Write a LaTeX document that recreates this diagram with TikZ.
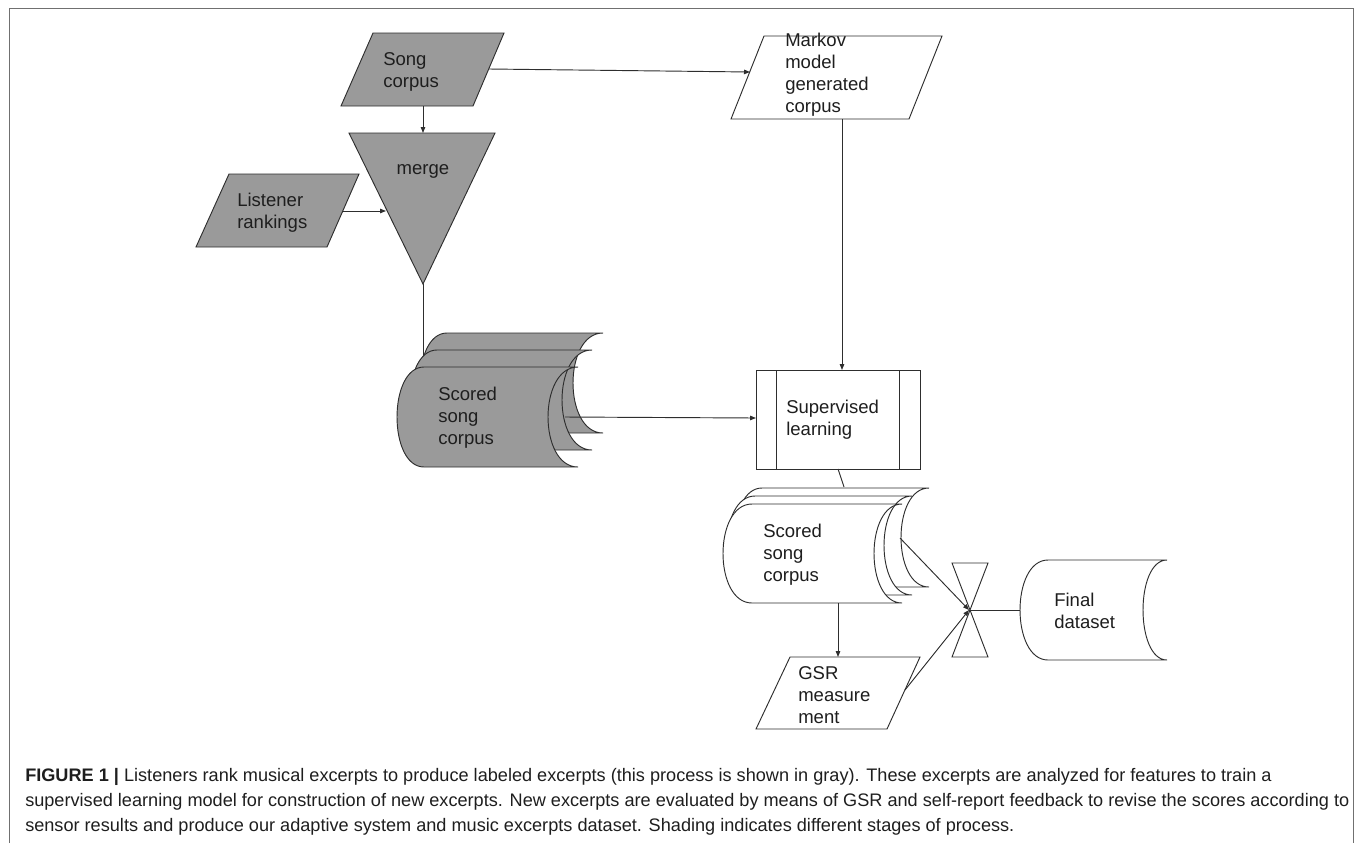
\documentclass[tikz,border=0pt]{standalone}
\usepackage{fontspec}
\setmainfont{Liberation Sans}
\usetikzlibrary{arrows.meta}
\definecolor{shadegray}{HTML}{9A9A9A}
\definecolor{linecol}{HTML}{2E2E2E}
\definecolor{framecol}{HTML}{707070}
\definecolor{txtcol}{HTML}{1E1E1E}
% #1 style, #2 x0 (leftmost), #3 x1 (right corners), #4 top, #5 bottom, #6 left radius, #7 right radius
\newcommand\mystoreddata[7]{%
  \path[#1] ({#2+#6},#4) .. controls ({#2+#6-1.3333*#6},#4) and ({#2+#6-1.3333*#6},#5) .. ({#2+#6},#5)
    -- (#3,#5) .. controls ({#3-1.3333*#7},#5) and ({#3-1.3333*#7},#4) .. (#3,#4) -- cycle;}
\begin{document}
\begin{tikzpicture}[x=0.75pt,y=-0.75pt,
  shapeline/.style={draw=linecol, line width=0.7pt, line join=miter},
  grayshape/.style={shapeline, fill=shadegray},
  whiteshape/.style={shapeline, fill=white},
  conn/.style={draw=linecol, line width=0.7pt},
  arr/.style={conn, -{Triangle[length=4.5pt,width=3.4pt]}},
  lbl/.style={inner sep=0pt, align=left, anchor=west, text=txtcol,
    font=\fontsize{13.9}{16.6}\selectfont},
  ctr/.style={inner sep=0pt, anchor=center, text=txtcol,
    font=\fontsize{13.9}{16.6}\selectfont},
  captext/.style={inner sep=0pt, anchor=base west, text=txtcol,
    font=\fontsize{13.6}{18}\selectfont}
]
\useasboundingbox (0,0) rectangle (1355,843);
% frame
\draw[framecol, line width=1.1pt] (9.3,843) -- (9.3,8.3) -- (1353.7,8.3) -- (1353.7,843);

% connection points
\coordinate (songR) at (489,69);
\coordinate (markovL) at (750,72);
\coordinate (songB) at (423,106);
\coordinate (mergeT) at (423,133);
\coordinate (listR) at (343,211);
\coordinate (mergeL) at (386,211);
\coordinate (mergeApex) at (423,284);
\coordinate (gscoredTop) at (423,362);
\coordinate (gscoredR) at (565,417);
\coordinate (supL) at (756,418);
\coordinate (markovB) at (842,119);
\coordinate (supT) at (842,370);
\coordinate (supB) at (838,469);
\coordinate (wscoredTop) at (844,487);
\coordinate (wscoredB) at (838,603);
\coordinate (gsrT) at (838,657);
\coordinate (wscoredR) at (900,538);
\coordinate (bow) at (969,610);
\coordinate (gsrR) at (905,690);
\coordinate (finalL) at (1020,610);

% line from merge to gray stack (behind the stack)
\draw[conn] (mergeApex) -- (gscoredTop);

% Song corpus
\path[grayshape] (373,33) -- (504,33) -- (473,106) -- (341,106) -- cycle;
\node[lbl] (songtxt) at (383,72) {Song\\corpus};
% merge
\path[grayshape] (349,133) -- (495,133) -- (423,284) -- cycle;
\node[ctr] (mergetxt) at (423,171) {merge};
% Listener rankings
\path[grayshape] (229,174) -- (359,174) -- (327,247) -- (196,247) -- cycle;
\node[lbl] (listtxt) at (237,212.5) {Listener\\rankings};
% gray scored song corpus
\mystoreddata{grayshape}{420}{603}{333}{433}{27}{30}
\mystoreddata{grayshape}{410}{592}{350}{450}{27}{30}
\mystoreddata{grayshape}{397}{578}{367}{467}{27}{30}
\node[lbl] (gscoredtxt) at (438,417.5) {Scored\\song\\corpus};

% Markov model generated corpus
\path[whiteshape] (764,36) -- (942,36) -- (909,119) -- (731,119) -- cycle;
\node[lbl] (markovtxt) at (785,75) {Markov\\model\\generated\\corpus};

% Supervised learning
\path[whiteshape] (756,370) rectangle (920,469);
\draw[shapeline] (776,370) -- (776,469);
\draw[shapeline] (899,370) -- (899,469);
\node[lbl] (suptxt) at (786,419.5) {Supervised\\learning};

% white scored song corpus
\mystoreddata{whiteshape}{735}{929}{488}{587}{27}{28}
\mystoreddata{whiteshape}{727}{912}{496}{595}{28}{28}
\mystoreddata{whiteshape}{723}{902}{504}{603}{29}{28}
\node[lbl] (wscoredtxt) at (763,555) {Scored\\song\\corpus};

% GSR measurement
\path[whiteshape] (790,657) -- (920,657) -- (887,729) -- (756,729) -- cycle;
\node[lbl] (gsrtxt) at (798,695) {GSR\\measure\\ment};

% collate (bowtie)
\path[whiteshape] (952,563) -- (988,563) -- (952,657) -- (988,657) -- cycle;

% Final dataset
\mystoreddata{whiteshape}{1020}{1167}{560}{660}{28}{24}
\node[lbl] (finaltxt) at (1054,611) {Final\\dataset};

% connectors
\draw[arr] (songR) -- (markovL);
\draw[arr] (songB) -- (mergeT);
\draw[arr] (listR) -- (mergeL);
\draw[arr] (markovB) -- (supT);
\draw[arr] (gscoredR) -- (supL);
\draw[conn] (supB) -- (wscoredTop);
\draw[arr] (wscoredB) -- (gsrT);
\draw[arr] (wscoredR) -- (bow);
\draw[arr] (gsrR) -- (bow);
\draw[conn] (bow) -- (finalL);

% caption
\node[captext] (cap1) at (25,781) {\textbf{FIGURE 1 |} Listeners rank musical excerpts to produce labeled excerpts (this process is shown in gray). These excerpts are analyzed for features to train a};
\node[captext] (cap2) at (25,806) {supervised learning model for construction of new excerpts. New excerpts are evaluated by means of GSR and self-report feedback to revise the scores according to};
\node[captext] (cap3) at (25,831) {sensor results and produce our adaptive system and music excerpts dataset. Shading indicates different stages of process.};
\end{tikzpicture}
\end{document}
